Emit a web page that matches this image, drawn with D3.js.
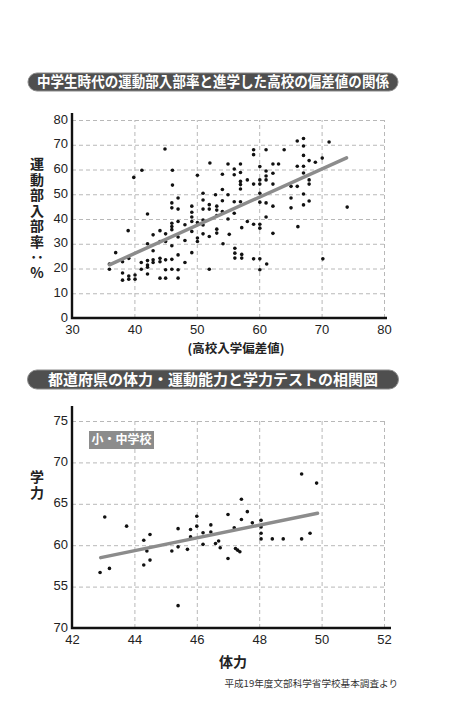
<!DOCTYPE html>
<html>
<head>
<meta charset="utf-8">
<script src="https://cdn.jsdelivr.net/npm/d3@7"></script>
<style>
  body { margin: 0; background: #fff; }
  svg { display: block; }
  .grid line { stroke: #b8b8b8; stroke-dasharray: 4 3; }
  .grid path { display: none; }
  .lbl text { font-family: "Liberation Sans", Arial, sans-serif; font-size: 13px; fill: #222; }
  .lbl path, .lbl line { display: none; }
  .jp { font-family: "Noto Sans CJK JP", sans-serif; font-weight: bold; }
  .vt { writing-mode: vertical-rl; text-orientation: upright; }
</style>
</head>
<body>
<svg width="455" height="728"></svg>
<script>
// chart 1: 偏差値 vs 運動部入部率
const topXTicks = [30, 40, 50, 60, 70, 80];
const topYTicks = [0, 10, 20, 30, 40, 50, 60, 70, 80];
const topPoints = [
  [36.0,21.8],[36.0,19.7],[37.0,26.4],[38.1,22.7],[38.1,18.2],[38.1,15.3],[39.1,24.1],[39.1,17.0],
  [39.1,15.7],[40.1,17.4],[40.1,15.7],[39.0,35.3],[42.1,42.0],[41.1,22.4],[41.1,19.7],[42.1,23.2],
  [42.1,21.4],[42.1,20.5],[42.1,17.8],[42.1,30.0],[43.0,33.6],[43.0,27.2],[43.0,23.5],[43.0,22.4],
  [44.1,35.3],[44.1,30.9],[44.1,24.1],[44.1,22.7],[44.1,16.1],[45.0,34.0],[45.0,30.9],[45.0,23.5],
  [45.0,19.5],[45.0,16.1],[46.0,46.5],[46.0,44.5],[46.0,38.3],[46.0,37.0],[46.0,35.7],[46.0,29.2],
  [46.0,23.7],[46.0,19.7],[47.0,48.5],[47.0,44.0],[47.0,39.0],[47.0,32.7],[47.0,25.5],[47.0,19.5],
  [47.0,16.1],[48.1,37.7],[48.1,31.3],[48.1,22.4],[49.2,45.2],[49.2,42.7],[49.2,40.8],[49.2,39.0],
  [49.2,35.0],[49.2,26.4],[50.1,38.6],[50.1,32.3],[50.1,30.9],[51.0,50.4],[51.0,47.7],[51.0,44.0],
  [51.0,39.6],[51.0,37.6],[51.0,34.0],[52.0,45.8],[52.0,44.0],[52.0,32.9],[52.0,19.7],[53.0,49.8],
  [53.2,45.2],[53.2,43.6],[53.2,41.4],[53.2,35.9],[53.2,34.3],
  [44.9,68.3],[41.2,59.7],[39.9,56.8],[46.1,59.7],[46.1,53.7],[52.1,62.6],[50.1,57.7],
  [54.1,58.1],[55.0,62.2],[56.0,60.2],[56.0,57.9],[57.0,62.2],[57.0,58.8],[57.0,55.2],[57.0,53.9],
  [57.0,52.1],[58.1,55.8],[59.1,68.0],[59.1,66.0],[59.1,54.1],[60.1,61.2],[60.1,55.8],[60.1,54.1],
  [60.1,50.4],[61.1,68.0],[61.1,59.4],[61.1,57.4],[61.1,55.8],[62.2,62.2],[62.2,58.5],[62.2,54.1],
  [63.1,62.2],[64.0,68.0],[65.1,53.2],[65.1,48.5],[65.1,44.5],[66.1,71.5],[66.1,61.3],[66.1,53.2],
  [67.1,72.5],[67.1,69.5],[67.1,65.7],[67.1,61.3],[67.1,58.6],[67.1,50.1],[67.1,45.7],[68.0,63.6],
  [68.0,55.8],[68.0,54.1],[68.0,47.3],[69.0,62.9],[70.1,64.6],[71.2,71.1],[74.1,44.8],
  [54.1,51.9],[55.0,49.8],[54.1,47.4],[56.0,47.0],[57.0,47.0],[54.1,43.0],[56.0,42.3],[55.0,40.0],
  [58.1,39.0],[59.1,37.9],[60.1,37.9],[60.1,36.3],[61.1,46.5],[61.1,40.8],[62.2,45.2],[60.1,46.8],
  [54.2,30.0],[55.2,33.8],[56.1,28.2],[56.1,26.2],[56.1,24.2],[57.2,25.7],[57.2,24.2],[57.2,36.5],
  [59.1,23.9],[60.1,23.9],[60.1,19.5],[61.2,21.8],[62.2,34.2],[66.2,36.9],[70.2,23.9]
];
const topTrend = [[36.0, 21.5], [74.0, 64.7]];

// chart 2: 体力 vs 学力
const botXTicks = [42, 44, 46, 48, 50, 52];
const botYTicks = [50, 55, 60, 65, 70, 75];
const botYLabels = ["70", "55", "60", "65", "70", "75"];
const botPoints = [
  [43.05,63.4],[43.75,62.3],[42.9,56.7],[43.2,57.2],[44.3,60.6],[44.5,61.3],[44.4,59.3],[44.5,58.2],
  [44.3,57.6],[45.2,59.3],[45.4,62.0],[45.4,59.8],[45.4,52.7],[45.7,59.5],[45.8,61.9],[45.8,61.0],
  [46.0,63.5],[46.0,62.3],[46.2,61.5],[46.2,60.1],[46.45,62.45],[46.45,61.6],[46.6,60.2],[46.7,60.5],
  [46.75,59.7],[47.0,63.7],[47.0,58.4],[47.2,62.1],[47.24,59.6],[47.31,59.4],[47.38,59.2],[47.43,65.55],
  [47.62,64.05],[47.43,63.1],[47.78,62.7],[48.06,63.0],[48.06,62.2],[48.06,61.45],[48.06,60.76],
  [48.42,60.76],[48.77,60.76],[49.36,60.76],[49.63,61.45],[49.36,68.6],[49.84,67.5]
];
const botTrend = [[42.92, 58.5], [49.87, 63.86]];

const svg = d3.select("svg");

function banner(cx, y0, w, h, text, textW) {
  const g = svg.append("g");
  g.append("rect")
    .attr("x", cx - w / 2).attr("y", y0).attr("width", w).attr("height", h)
    .attr("rx", h / 2).attr("fill", "#4f4f4f").attr("stroke", "#8a8a8a").attr("stroke-width", 1);
  g.append("text")
    .attr("class", "jp")
    .attr("x", cx).attr("y", y0 + h / 2 + 1)
    .attr("text-anchor", "middle").attr("dominant-baseline", "middle")
    .attr("font-size", 15).attr("fill", "#fff")
    .attr("textLength", textW).attr("lengthAdjust", "spacingAndGlyphs")
    .text(text);
}

function chart(opts) {
  const { x, y, xTicks, yTicks, yFmt, points, trend, axisTop, axisRight } = opts;
  const [x0, x1] = x.range();
  const [yb, yt] = y.range();

  svg.append("g").attr("class", "grid")
    .attr("transform", `translate(${x0},0)`)
    .call(d3.axisLeft(y).tickValues(yTicks.slice(1)).tickSize(-(x1 - x0)).tickFormat(""));
  svg.append("g").attr("class", "grid")
    .attr("transform", `translate(0,${yb})`)
    .call(d3.axisBottom(x).tickValues(xTicks.slice(1)).tickSize(-(yb - yt)).tickFormat(""));

  svg.append("g").attr("class", "lbl")
    .attr("transform", `translate(${x0 - 4},-1)`)
    .call(d3.axisLeft(y).tickValues(yTicks).tickSize(0).tickPadding(0).tickFormat(yFmt));
  svg.append("g").attr("class", "lbl")
    .attr("transform", `translate(0,${yb + 2})`)
    .call(d3.axisBottom(x).tickValues(xTicks).tickSize(0).tickPadding(5));

  svg.append("g").selectAll("circle")
    .data(points)
    .enter().append("circle")
    .attr("cx", d => x(d[0]))
    .attr("cy", d => y(d[1]))
    .attr("r", 1.8)
    .attr("fill", "#111");

  svg.append("line")
    .attr("x1", x(trend[0][0])).attr("y1", y(trend[0][1]))
    .attr("x2", x(trend[1][0])).attr("y2", y(trend[1][1]))
    .attr("stroke", "#8c8c8c").attr("stroke-width", 3.5).attr("stroke-linecap", "round");

  svg.append("path")
    .attr("d", `M${x0},${axisTop}V${yb}H${axisRight}`)
    .attr("fill", "none").attr("stroke", "#111").attr("stroke-width", 2.4);
}

// vertical axis title, one text element in vertical writing mode
function vtext(x0, y0, text, size, spacing) {
  svg.append("text")
    .attr("class", "jp vt")
    .attr("x", x0).attr("y", y0)
    .attr("font-size", size).attr("fill", "#222")
    .attr("letter-spacing", spacing)
    .text(text);
}

// ---- top chart
banner(213, 73, 370, 18, "中学生時代の運動部入部率と進学した高校の偏差値の関係", 352);

const xTop = d3.scaleLinear().domain([30, 80]).range([72, 384]);
const yTop = d3.scaleLinear().domain([0, 80]).range([318, 120]);
chart({ x: xTop, y: yTop, xTicks: topXTicks, yTicks: topYTicks, yFmt: d3.format("d"),
        points: topPoints, trend: topTrend, axisTop: 113, axisRight: 387 });

vtext(37, 157, "運動部入部率：%", 14, 1.5);

svg.append("text").attr("class", "jp")
  .attr("x", 236).attr("y", 350)
  .attr("text-anchor", "middle").attr("dominant-baseline", "middle")
  .attr("font-size", 12.5).attr("fill", "#222")
  .text("(高校入学偏差値)");

// ---- bottom chart
banner(213, 370, 371, 19, "都道府県の体力・運動能力と学力テストの相関図", 330);

const xBot = d3.scaleLinear().domain([42, 52]).range([72, 384]);
const yBot = d3.scaleLinear().domain([50, 75]).range([628, 421]);
chart({ x: xBot, y: yBot, xTicks: botXTicks, yTicks: botYTicks,
        yFmt: (d, i) => botYLabels[i],
        points: botPoints, trend: botTrend, axisTop: 406, axisRight: 391 });

svg.append("rect")
  .attr("x", 89).attr("y", 431).attr("width", 65).attr("height", 18)
  .attr("fill", "#8c8c8c");
svg.append("text").attr("class", "jp")
  .attr("x", 121.5).attr("y", 440.5)
  .attr("text-anchor", "middle").attr("dominant-baseline", "middle")
  .attr("font-size", 12).attr("fill", "#fff")
  .text("小・中学校");

vtext(37, 470, "学力", 14, 2);

svg.append("text").attr("class", "jp")
  .attr("x", 233).attr("y", 663)
  .attr("text-anchor", "middle").attr("dominant-baseline", "middle")
  .attr("font-size", 14).attr("fill", "#222")
  .text("体力");

svg.append("text")
  .attr("x", 398).attr("y", 684)
  .attr("text-anchor", "end").attr("dominant-baseline", "middle")
  .attr("font-family", "'Noto Sans CJK JP', sans-serif")
  .attr("font-size", 9.6).attr("fill", "#333")
  .text("平成19年度文部科学省学校基本調査より");
</script>
</body>
</html>
